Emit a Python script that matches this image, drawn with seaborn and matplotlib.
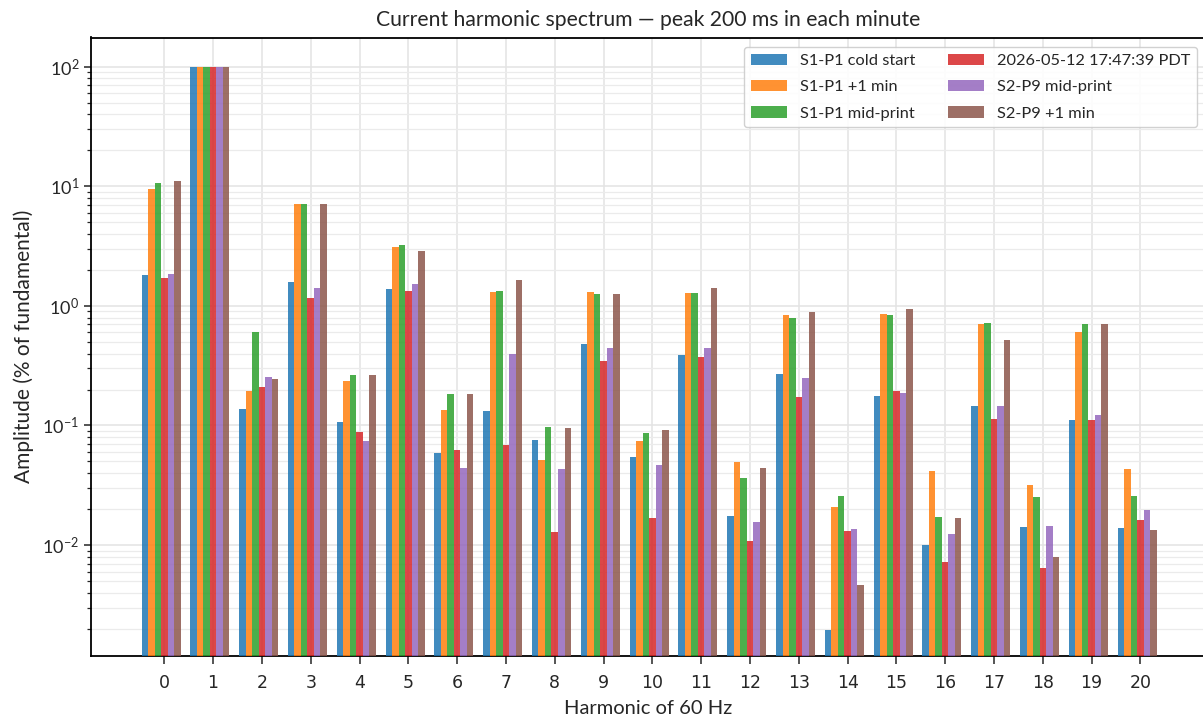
import numpy as np
import pandas as pd
import matplotlib
matplotlib.use("Agg")
import matplotlib.pyplot as plt
import seaborn as sns

harmonics = list(range(21))
series = ["S1-P1 cold start", "S1-P1 +1 min", "S1-P1 mid-print",
          "2026-05-12 17:47:39 PDT", "S2-P9 mid-print", "S2-P9 +1 min"]
colors = ["#1f77b4", "#ff7f0e", "#2ca02c", "#d62728", "#9467bd", "#8c564b"]

s1_cold = [1.81, 100, 0.137, 1.58, 0.106, 1.38, 0.0586, 0.132, 0.0754, 0.481, 0.0543,
           0.388, 0.0174, 0.269, 0.00196, 0.176, 0.00993, 0.145, 0.01406, 0.111, 0.0138]
s1_plus1 = [9.5, 100, 0.193, 7.1, 0.235, 3.09, 0.134, 1.31, 0.0512, 1.31, 0.0739,
            1.28, 0.0493, 0.841, 0.0207, 0.857, 0.0414, 0.707, 0.0316, 0.605, 0.0431]
s1_mid = [10.6, 100, 0.604, 7.1, 0.267, 3.24, 0.183, 1.34, 0.0968, 1.26, 0.0863,
          1.28, 0.0362, 0.793, 0.0256, 0.841, 0.0171, 0.721, 0.0251, 0.707, 0.0256]
snap_2026 = [1.71, 100, 0.208, 1.16, 0.089, 1.33, 0.0621, 0.0684, 0.01277, 0.346, 0.0167,
             0.374, 0.01074, 0.173, 0.0130, 0.194, 0.00716, 0.113, 0.00637, 0.111, 0.0161]
s2_mid = [1.84, 100, 0.254, 1.41, 0.0748, 1.53, 0.0439, 0.396, 0.0431, 0.445, 0.0465,
          0.445, 0.0155, 0.249, 0.0135, 0.187, 0.01228, 0.145, 0.01433, 0.122, 0.0195]
s2_plus1 = [11.0, 100, 0.244, 7.1, 0.264, 2.88, 0.183, 1.65, 0.095, 1.26, 0.0914,
            1.42, 0.0439, 0.891, 0.00459, 0.944, 0.0167, 0.519, 0.00788, 0.707, 0.0133]

values = [s1_cold, s1_plus1, s1_mid, snap_2026, s2_mid, s2_plus1]
df = pd.DataFrame({
    "harmonic": np.tile(harmonics, len(series)),
    "amp": np.concatenate(values),
    "series": np.repeat(series, len(harmonics)),
})

sns.set_style("ticks")
plt.rcParams["font.family"] = ["Lato", "DejaVu Sans"]

fig = plt.figure(figsize=(12.03, 7.23), dpi=100)
ax = fig.add_axes([91 / 1203, 67 / 723, 1115 / 1203, 618.5 / 723])

sns.barplot(data=df, x="harmonic", y="amp", hue="series", hue_order=series,
            order=harmonics, palette=colors, saturation=1, alpha=0.85,
            width=0.8, errorbar=None, ax=ax, zorder=3, linewidth=0, edgecolor="none")
ax.set_yscale("log")

w = 0.8 / len(series)
ax.set_xticks(np.arange(len(harmonics)) + w / 2)
ax.set_xticklabels([str(h) for h in harmonics], fontfamily="DejaVu Sans", fontsize=12.5)
ax.set_xlim(-1.435, 21.41)
ax.set_ylim(0.00118, 176)

ax.grid(True, which="major", axis="both", color="#e3e3e3", linewidth=1.1, zorder=0)
ax.grid(True, which="minor", axis="y", color="#ebebeb", linewidth=0.9, zorder=0)
ax.set_axisbelow(True)

ax.tick_params(axis="y", which="major", labelsize=13, length=5, width=1.1)
ax.tick_params(axis="y", which="minor", length=3, width=0.9)
ax.tick_params(axis="x", which="major", length=6, width=1.1, pad=7)
for sp in ax.spines.values():
    sp.set_linewidth(1.3)
    sp.set_color("black")

ax.set_title("Current harmonic spectrum \u2014 peak 200 ms in each minute", fontsize=15.2, pad=8)
ax.set_xlabel("Harmonic of 60 Hz", fontsize=14.5, labelpad=6)
ax.set_ylabel("Amplitude (% of fundamental)", fontsize=15, labelpad=6)

handles, labels = ax.get_legend_handles_labels()
if ax.get_legend() is not None:
    ax.get_legend().remove()
ax.legend(handles, labels, ncol=2, loc="upper right", bbox_to_anchor=(0.9919, 0.9846),
          borderaxespad=0, fontsize=11.8, handlelength=2.2, labelspacing=0.72,
          columnspacing=2.0, frameon=True, edgecolor="#cccccc", framealpha=0.9)

fig.savefig("out.png", dpi=100)
